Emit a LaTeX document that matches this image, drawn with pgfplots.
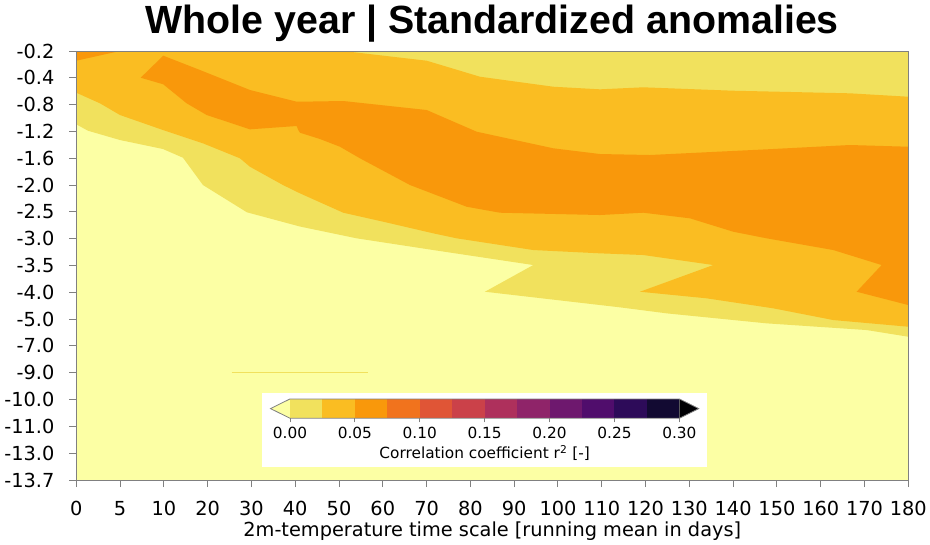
\documentclass[border=0pt]{standalone}
\usepackage{fontspec}
\setmainfont{DejaVu Sans}
\newfontfamily\titlefont{Liberation Sans}
\usepackage{pgfplots}
\pgfplotsset{compat=1.18}
\definecolor{cUnder}{HTML}{FCFFA4}
\definecolor{c1}{HTML}{F1E15D}
\definecolor{c2}{HTML}{FABD22}
\definecolor{c3}{HTML}{F9980B}
\definecolor{c4}{HTML}{F1731D}
\definecolor{c5}{HTML}{E05536}
\definecolor{c6}{HTML}{CB4149}
\definecolor{c7}{HTML}{AE305C}
\definecolor{c8}{HTML}{8F2469}
\definecolor{c9}{HTML}{6E186E}
\definecolor{c10}{HTML}{500D6C}
\definecolor{c11}{HTML}{2D0B59}
\definecolor{c12}{HTML}{120A32}
\definecolor{cOver}{HTML}{000004}
\definecolor{spine}{HTML}{808080}
\begin{document}
\begin{tikzpicture}
\useasboundingbox (0,0) rectangle (697.5pt,408pt);
\begin{axis}[
  at={(57.2pt,48pt)}, anchor=south west,
  scale only axis, width=624pt, height=321.75pt,
  xmin=0, xmax=19, ymin=0, ymax=16, y dir=reverse,
  xtick={0,...,19},
  xticklabels={0,5,10,20,30,40,50,60,70,80,90,100,110,120,130,140,150,160,170,180},
  ytick={0,...,16},
  yticklabels={-0.2,-0.4,-0.8,-1.2,-1.6,-2.0,-2.5,-3.0,-3.5,-4.0,-5.0,-7.0,-9.0,-10.0,-11.0,-13.0,-13.7},
  tick align=outside, major tick length=5.25pt,
  xtick pos=left, ytick pos=left,
  axis line style={draw=spine, line width=0.7pt},
  tick style={draw=spine, line width=0.7pt},
  axis on top,
  ticklabel style={font=\fontsize{14.5}{17}\selectfont, inner sep=0pt},
  yticklabel style={anchor=east, xshift=-11pt},
  xticklabel style={anchor=base, yshift=-21pt},
  xlabel={2m-temperature time scale [running mean in days]},
  xlabel style={font=\fontsize{14.5}{17}\selectfont, at={(axis description cs:0.5,0)}, anchor=base, yshift=-42pt, inner sep=0pt},
  title={Whole year | Standardized anomalies},
  title style={font=\titlefont\bfseries\fontsize{29.5}{34}\selectfont, at={(axis description cs:0.5,1)}, anchor=base, yshift=7pt, inner sep=0pt},
]
% r^2 < 0 (under colour): whole field
\addplot[fill=cUnder, draw=none] coordinates {(0,0) (19,0) (19,16) (0,16)} --cycle;
% r^2 >= 0.000
\addplot[fill=c1, draw=none] coordinates {
(0,0) (19,0) (19,10.656) (18.050,10.407) (15.766,10.157) (13.482,9.784) (12.416,9.560)
(9.333,8.978) (10.436,7.982) (8.153,7.423) (6.403,6.986) (5.108,6.546) (3.898,6.016)
(2.893,4.998) (2.437,3.980) (1.980,3.655) (0.998,3.320) (0.267,2.973) (0,2.734)} --cycle;
\addplot[draw=c1, line width=0.8pt] coordinates {(3.549,12) (6.671,12)};
% r^2 >= 0.025
\addplot[fill=c2, draw=none] coordinates {
(0,0) (6.097,0) (8.002,0.362) (9.219,0.959) (10.893,1.332) (11.959,1.429) (12.948,1.354)
(15.003,1.481) (17.667,1.578) (19,1.705) (19,10.283) (17.287,10.034) (15.917,9.597)
(14.396,9.224) (12.873,8.978) (14.547,7.982) (12.948,7.609) (11.959,7.546) (10.436,7.423)
(8.687,6.986) (8.153,6.800) (7.011,6.367) (6.097,6.031) (5.108,5.308) (4.720,4.998)
(3.966,4.316) (3.738,4.002) (2.893,3.443) (1.980,2.947) (0.998,2.387) (0.541,1.951) (0,1.555)} --cycle;
% r^2 >= 0.05
\addplot[fill=c3, draw=none] coordinates {(0,0) (0.998,0) (0,0.362)} --cycle;
\addplot[fill=c3, draw=none] coordinates {
(1.471,0.996) (1.987,0.175) (2.825,0.709) (3.967,1.455) (5.033,1.891) (5.108,1.891)
(6.097,1.865) (8.002,2.201) (9.144,3.010) (10.893,3.629) (11.959,3.842) (13.101,3.879)
(15.766,3.667) (17.667,3.506) (19,3.570) (19,9.474) (17.821,8.978) (18.392,7.982)
(17.287,7.423) (15.766,6.986) (15.003,6.740) (14.014,6.240) (12.948,6.031) (11.959,6.117)
(9.676,6.031) (8.915,5.808) (7.621,4.998) (6.479,4.002) (6.022,3.570) (5.565,3.282)
(5.108,3.047) (5.070,2.947) (5.033,2.797) (3.967,2.921) (2.978,2.387) (2.521,1.951)
(1.987,1.242)} --cycle;
\end{axis}
\fill[white] (196.3pt,58pt) rectangle (530.5pt,113pt);
\begin{axis}[
  at={(217.5pt,94.3pt)}, anchor=south west,
  scale only axis, width=292pt, height=14.5pt,
  xmin=0, xmax=0.3, ymin=0, ymax=1, clip=false,
  axis line style={draw=none}, ytick=\empty,
  xtick={0,0.05,0.1,0.15,0.2,0.25,0.3},
  xticklabels={0.00,0.05,0.10,0.15,0.20,0.25,0.30},
  xtick pos=left, tick align=outside, major tick length=3pt,
  tick style={draw=spine, line width=0.6pt},
  ticklabel style={font=\fontsize{11.5}{14}\selectfont, inner sep=0pt},
  xticklabel style={anchor=base, yshift=-12.5pt},
  xlabel={Correlation coefficient r\textsuperscript{2} [-]},
  xlabel style={font=\fontsize{11.5}{14}\selectfont, at={(axis description cs:0.5,0)}, anchor=base, yshift=-30.5pt, inner sep=0pt},
]
\addplot[fill=cUnder, draw=none] coordinates {(0,0) (-0.015,0.5) (0,1)} --cycle;
\addplot[fill=c1, draw=none] coordinates {(0,0) (0.025,0) (0.025,1) (0,1)} --cycle;
\addplot[fill=c2, draw=none] coordinates {(0.025,0) (0.05,0) (0.05,1) (0.025,1)} --cycle;
\addplot[fill=c3, draw=none] coordinates {(0.05,0) (0.075,0) (0.075,1) (0.05,1)} --cycle;
\addplot[fill=c4, draw=none] coordinates {(0.075,0) (0.1,0) (0.1,1) (0.075,1)} --cycle;
\addplot[fill=c5, draw=none] coordinates {(0.1,0) (0.125,0) (0.125,1) (0.1,1)} --cycle;
\addplot[fill=c6, draw=none] coordinates {(0.125,0) (0.15,0) (0.15,1) (0.125,1)} --cycle;
\addplot[fill=c7, draw=none] coordinates {(0.15,0) (0.175,0) (0.175,1) (0.15,1)} --cycle;
\addplot[fill=c8, draw=none] coordinates {(0.175,0) (0.2,0) (0.2,1) (0.175,1)} --cycle;
\addplot[fill=c9, draw=none] coordinates {(0.2,0) (0.225,0) (0.225,1) (0.2,1)} --cycle;
\addplot[fill=c10, draw=none] coordinates {(0.225,0) (0.25,0) (0.25,1) (0.225,1)} --cycle;
\addplot[fill=c11, draw=none] coordinates {(0.25,0) (0.275,0) (0.275,1) (0.25,1)} --cycle;
\addplot[fill=c12, draw=none] coordinates {(0.275,0) (0.3,0) (0.3,1) (0.275,1)} --cycle;
\addplot[fill=cOver, draw=none] coordinates {(0.3,0) (0.315,0.5) (0.3,1)} --cycle;
\addplot[draw=spine, line width=0.6pt] coordinates {(0,0) (-0.015,0.5) (0,1) (0.3,1) (0.315,0.5) (0.3,0)} --cycle;
\end{axis}
\end{tikzpicture}
\end{document}
